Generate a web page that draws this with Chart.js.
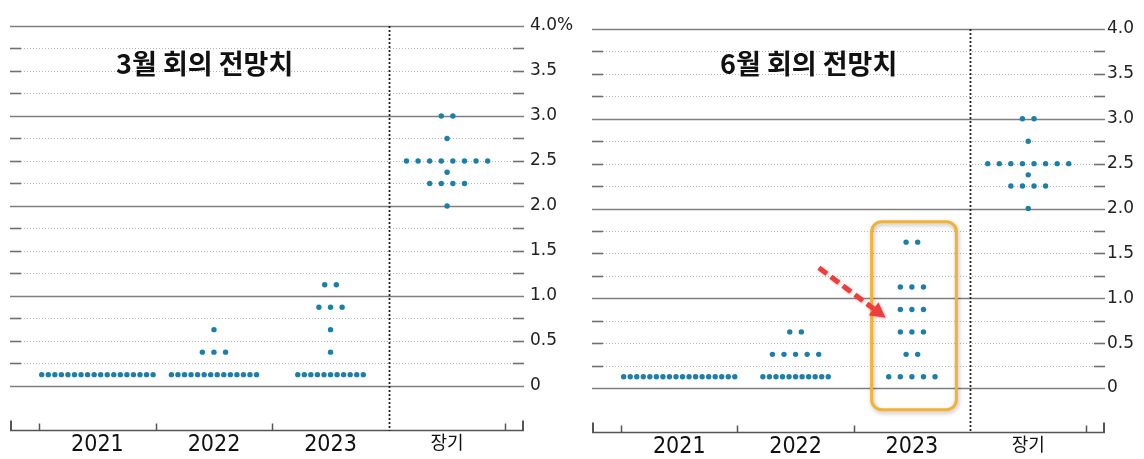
<!DOCTYPE html>
<html><head><meta charset="utf-8">
<script src="https://cdn.jsdelivr.net/npm/chart.js@4.4.1/dist/chart.umd.min.js"></script>
<style>
html,body{margin:0;padding:0;background:#fff;width:1144px;height:459px;overflow:hidden;}
.panel{position:absolute;top:0;height:459px;}
#p1{left:0;width:578px;} #p2{left:578px;width:566px;}
.title{position:absolute;top:49px;font-family:"Noto Sans CJK KR";font-weight:bold;font-size:27px;line-height:27px;color:#111;white-space:nowrap;}
</style></head><body>
<div class="panel" id="p1"><canvas id="c1" width="578" height="459"></canvas></div>
<div class="panel" id="p2"><canvas id="c2" width="566" height="459"></canvas></div>
<div class="title" style="left:116px">3월 회의 전망치</div>
<div class="title" style="left:720px">6월 회의 전망치</div>
<script>
// ---- data ----
const categories = ['2021', '2022', '2023', '장기'];
const rateLevels = [0.125, 0.375, 0.625, 0.875, 1.125, 1.625, 2.0, 2.25, 2.375, 2.5, 2.75, 3.0];
// number of participants at each rate level (aligned with rateLevels)
const march2021  = [18, 0, 0, 0, 0, 0, 0, 0, 0, 0, 0, 0];
const march2022  = [14, 3, 1, 0, 0, 0, 0, 0, 0, 0, 0, 0];
const march2023  = [11, 1, 1, 3, 2, 0, 0, 0, 0, 0, 0, 0];
const marchLonger = [0, 0, 0, 0, 0, 0, 1, 4, 1, 8, 1, 2];
const june2021   = [18, 0, 0, 0, 0, 0, 0, 0, 0, 0, 0, 0];
const june2022   = [11, 5, 2, 0, 0, 0, 0, 0, 0, 0, 0, 0];
const june2023   = [5, 2, 3, 3, 3, 2, 0, 0, 0, 0, 0, 0];
const juneLonger = [0, 0, 0, 0, 0, 0, 1, 4, 1, 8, 1, 2];
const yTickValues = [0, 0.5, 1.0, 1.5, 2.0, 2.5, 3.0, 3.5, 4.0];

// ---- layout helpers ----
const NORMAL_STEP = 0.0995, COMPACT_STEP = 0.0562;
function buildDots(seriesList) {
  const pts = [];
  seriesList.forEach((counts, ci) => {
    counts.forEach((n, k) => {
      if (!n) return;
      const step = n > 8 ? COMPACT_STEP : NORMAL_STEP;
      for (let i = 0; i < n; i++) pts.push({x: ci + 1 + (i - (n - 1) / 2) * step, y: rateLevels[k]});
    });
  });
  return pts;
}

function line(ctx, x1, y1, x2, y2) { ctx.beginPath(); ctx.moveTo(x1, y1); ctx.lineTo(x2, y2); ctx.stroke(); }

const gridPlugin = {
  id: 'fedGrid',
  beforeDatasetsDraw(chart) {
    const {ctx, chartArea: a, scales: {x, y}} = chart;
    ctx.save();
    for (let v = 0; v <= 4.0001; v += 0.25) {
      const py = Math.round(y.getPixelForValue(v)) + 0.5;
      const major = Math.abs(v - Math.round(v)) < 1e-6;
      if (major) {
        ctx.setLineDash([]); ctx.strokeStyle = '#7f7f7f'; ctx.lineWidth = 1.6;
        line(ctx, a.left, py, a.right, py);
      } else {
        ctx.setLineDash([1, 2]); ctx.strokeStyle = '#b8b8b8'; ctx.lineWidth = 1;
        line(ctx, a.left + 11, py, a.right - 11, py);
        ctx.setLineDash([]); ctx.strokeStyle = '#707070'; ctx.lineWidth = 1.6;
        line(ctx, a.left, py, a.left + 11, py);
        line(ctx, a.right - 11, py, a.right, py);
      }
    }
    // bottom axis
    const by = Math.round(a.bottom) + 0.5;
    ctx.setLineDash([]); ctx.strokeStyle = '#555'; ctx.lineWidth = 1.5;
    line(ctx, a.left, by, a.right, by);
    [0.5, 1.5, 2.5, 4.5].forEach(v => { const px = Math.round(x.getPixelForValue(v)) + 0.5; line(ctx, px, by, px, by - 7); });
    ctx.lineWidth = 2;
    line(ctx, a.left + 1, by, a.left + 1, by - 10);
    line(ctx, a.right - 1, by, a.right - 1, by - 10);
    // dashed divider before longer run
    const dx = Math.round(x.getPixelForValue(3.5)) + 0.5;
    ctx.setLineDash([2, 2]); ctx.strokeStyle = '#222'; ctx.lineWidth = 1.8;
    line(ctx, dx, a.top, dx, a.bottom + 1);
    ctx.restore();
  }
};

// annotation (June panel): highlight box around 2023 and arrow
const highlightBox = {x0: 2.654, x1: 3.382, y0: 1.853, y1: -0.242};
const arrowPath = {x0: 2.2, y0: 1.34, x1: 2.774, y1: 0.783};
const annotationPlugin = {
  id: 'juneAnnot',
  afterDatasetsDraw(chart) {
    const {ctx, scales: {x, y}} = chart;
    ctx.save();
    const bx0 = x.getPixelForValue(highlightBox.x0), bx1 = x.getPixelForValue(highlightBox.x1);
    const by0 = y.getPixelForValue(highlightBox.y0), by1 = y.getPixelForValue(highlightBox.y1);
    ctx.shadowColor = 'rgba(0,0,0,0.28)'; ctx.shadowBlur = 4; ctx.shadowOffsetX = 1; ctx.shadowOffsetY = 2;
    ctx.strokeStyle = '#f3b234'; ctx.lineWidth = 3;
    ctx.beginPath(); ctx.roundRect(bx0, by0, bx1 - bx0, by1 - by0, 10); ctx.stroke();
    // arrow
    const ax0 = x.getPixelForValue(arrowPath.x0), ay0 = y.getPixelForValue(arrowPath.y0);
    const ax1 = x.getPixelForValue(arrowPath.x1), ay1 = y.getPixelForValue(arrowPath.y1);
    const ang = Math.atan2(ay1 - ay0, ax1 - ax0);
    const headLen = 15, headW = 8;
    const ex = ax1 - Math.cos(ang) * headLen, ey = ay1 - Math.sin(ang) * headLen;
    ctx.shadowColor = 'rgba(200,60,60,0.35)'; ctx.shadowBlur = 3; ctx.shadowOffsetX = 1; ctx.shadowOffsetY = 1;
    ctx.strokeStyle = '#ee3d3d'; ctx.lineWidth = 5; ctx.setLineDash([10, 5]); ctx.lineCap = 'butt';
    line(ctx, ax0, ay0, ex, ey);
    ctx.setLineDash([]); ctx.fillStyle = '#ee3d3d';
    ctx.beginPath();
    ctx.moveTo(ax1, ay1);
    ctx.lineTo(ex + Math.sin(ang) * headW, ey - Math.cos(ang) * headW);
    ctx.lineTo(ex - Math.sin(ang) * headW, ey + Math.cos(ang) * headW);
    ctx.closePath(); ctx.fill();
    ctx.restore();
  }
};

function makePanel(canvasId, seriesList, cfg) {
  return new Chart(document.getElementById(canvasId), {
    type: 'scatter',
    data: {datasets: [{
      data: buildDots(seriesList),
      pointRadius: 2.7, pointBackgroundColor: '#1b7fa9', pointBorderWidth: 0, pointHoverRadius: 2.7
    }]},
    options: {
      responsive: false, animation: false, events: [],
      layout: {padding: {left: cfg.padLeft, top: cfg.padTop, right: 0, bottom: 0}},
      plugins: {legend: {display: false}, tooltip: {enabled: false}},
      scales: {
        x: {
          type: 'linear', min: 0.25, max: 4.66,
          afterBuildTicks: s => { s.ticks = [1, 2, 3, 4].map(v => ({value: v})); },
          afterFit: s => { s.height = cfg.xHeight; },
          ticks: {
            callback: v => categories[v - 1],
            font: c => (c.tick && c.tick.value === 4)
              ? {family: '"Noto Sans CJK KR"', size: 18}
              : {family: '"DejaVu Sans Condensed"', size: 23},
            color: '#111', padding: 1, maxRotation: 0, autoSkip: false
          },
          grid: {display: false, drawTicks: false}, border: {display: false}
        },
        y: {
          type: 'linear', position: 'right', min: -0.49, max: 4.0,
          afterBuildTicks: s => { s.ticks = yTickValues.map(v => ({value: v})); },
          afterFit: s => { s.width = cfg.yWidth; },
          ticks: {
            callback: v => v === 4 ? cfg.topLabel : (v === 0 ? '0' : v.toFixed(1)),
            font: {family: '"DejaVu Sans"', size: 17}, color: '#222', padding: cfg.yPad
          },
          grid: {display: false, drawTicks: false}, border: {display: false}
        }
      }
    },
    plugins: cfg.plugins
  });
}

makePanel('c1', [march2021, march2022, march2023, marchLonger],
  {padLeft: 10, padTop: 26, xHeight: 29, yWidth: 54, yPad: 6, topLabel: '4.0%', plugins: [gridPlugin]});
makePanel('c2', [june2021, june2022, june2023, juneLonger],
  {padLeft: 14, padTop: 29, xHeight: 27, yWidth: 39, yPad: 2, topLabel: '4.0', plugins: [gridPlugin, annotationPlugin]});
</script>
</body></html>
